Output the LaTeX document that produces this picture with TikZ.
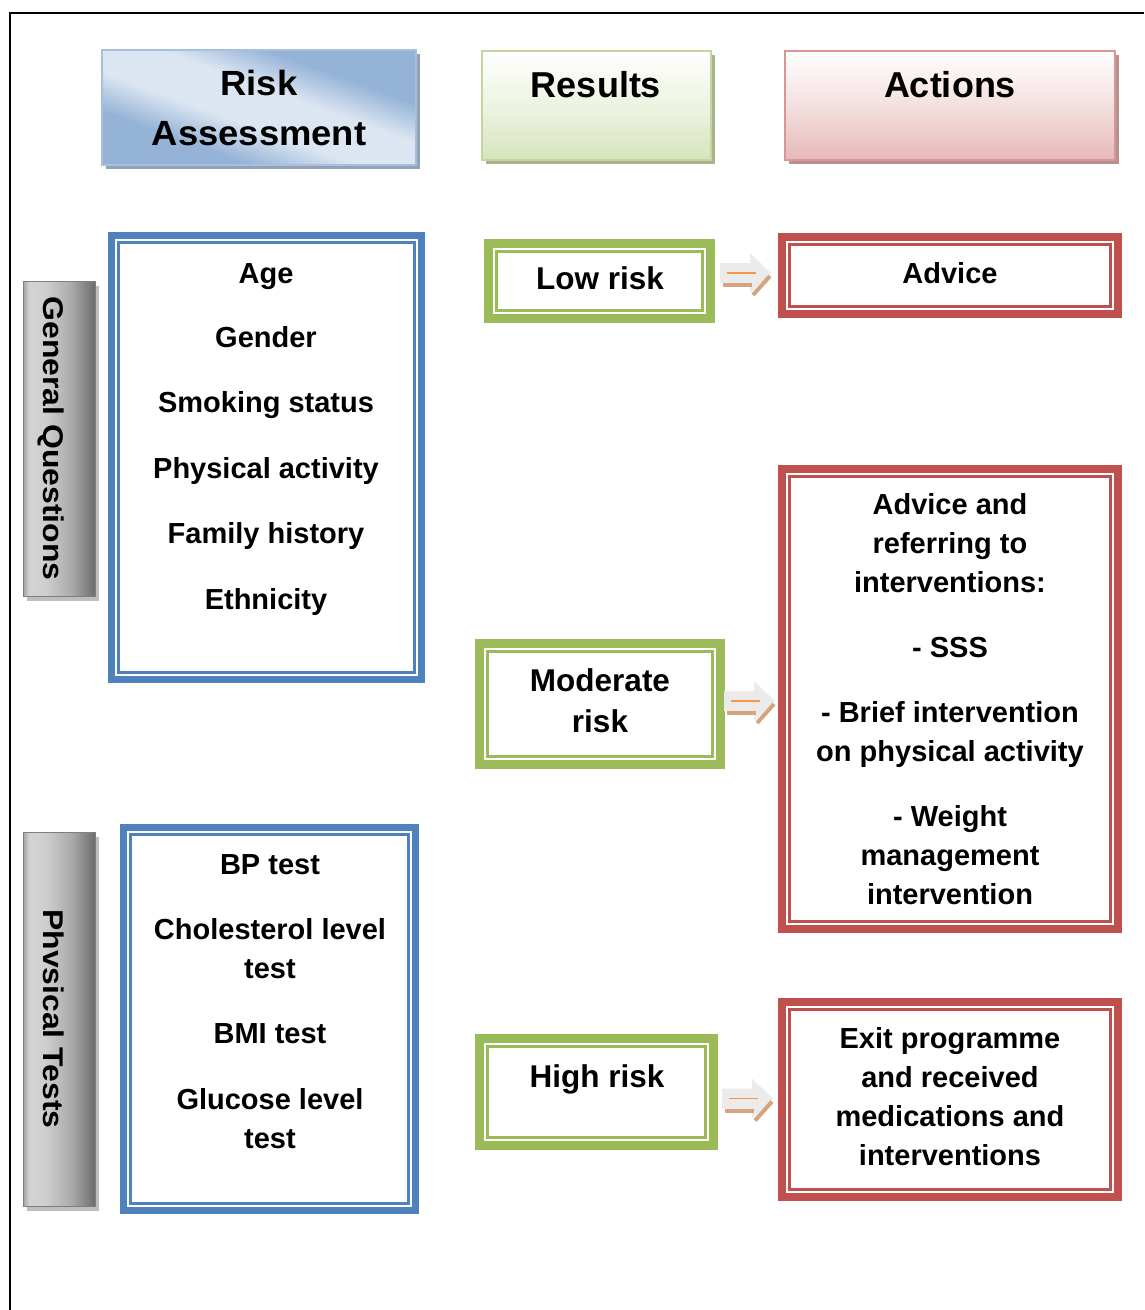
\documentclass[tikz,border=0pt]{standalone}
\usepackage{fontspec}
\setmainfont{Liberation Sans}
\usetikzlibrary{shadows}

\definecolor{bluebd}{HTML}{4F81BD}
\definecolor{greenbd}{HTML}{9BBB59}
\definecolor{redbd}{HTML}{C0504D}
\definecolor{hdrblueD}{HTML}{95B3D7}
\definecolor{hdrblueL}{HTML}{DCE6F2}
\definecolor{hdrblueBd}{HTML}{A7C0DE}
\definecolor{hdrblueSh}{HTML}{93A2B6}
\definecolor{hdrgreenB}{HTML}{D7E4BD}
\definecolor{hdrgreenBd}{HTML}{C3D69B}
\definecolor{hdrgreenSh}{HTML}{A9B390}
\definecolor{hdrredB}{HTML}{E6B9B8}
\definecolor{hdrredBd}{HTML}{D99694}
\definecolor{hdrredSh}{HTML}{B59291}
\definecolor{sideBd}{HTML}{7F7F7F}
\definecolor{sideSh}{HTML}{BDBDBD}
\definecolor{arrowface}{HTML}{EBEBEB}
\definecolor{arrowtan}{HTML}{D5A47F}
\definecolor{arroworange}{HTML}{F79646}

% diagonal sheen for the first heading: dark corners, light middle
\pgfdeclarehorizontalshading{bluesheen}{100bp}{%
  color(0bp)=(hdrblueD); color(33bp)=(hdrblueD); color(44bp)=(hdrblueL);
  color(56bp)=(hdrblueL); color(67bp)=(hdrblueD);
  color(100bp)=(hdrblueD)}
% metallic grey for the side labels
\pgfdeclarehorizontalshading{greymetal}{100bp}{%
  color(0bp)=(black!35); color(25bp)=(black!35); color(29bp)=(black!17);
  color(40bp)=(black!19); color(58bp)=(black!33); color(75bp)=(black!58);
  color(100bp)=(black!58)}

\tikzset{
  hdrbox/.style={inner sep=0pt, outer sep=0pt, line width=2pt, anchor=north west},
  sidebox/.style={inner sep=0pt, outer sep=0pt, line width=1.5pt, draw=sideBd,
    shading=greymetal, anchor=north west,
    drop shadow={shadow xshift=3pt, shadow yshift=-4pt, fill=sideSh, opacity=1}},
  hdrtext/.style={inner sep=0pt, anchor=base, font=\fontsize{36}{40}\selectfont\bfseries},
  bodytext/.style={inner sep=0pt, anchor=base, font=\fontsize{29}{39}\selectfont\bfseries},
  resulttext/.style={inner sep=0pt, anchor=base, font=\fontsize{31.5}{41}\selectfont\bfseries},
  sidetext/.style={inner sep=0pt, anchor=base, rotate=-90, font=\fontsize{28.5}{32}\selectfont\bfseries},
  blockarrow/.pic={
    \fill[arrowface] (-51,-10) -- (-21,-10) -- (-21,-20) -- (0,0) -- (-21,20)
      -- (-21,10) -- (-51,10) -- cycle;
    \draw[arrowtan, line width=4pt] (-48,12) -- (-19,12);
    \draw[arrowtan, line width=4pt] (-18,22) -- (-1,3);
    \draw[arroworange, line width=1.5pt] (-44,0) -- (-15,0);
  }
}

% framed box: thick outer band and a thin inner rule of the same colour
% #1 name, #2 colour, #3 band width, #4 #5 top-left, #6 #7 bottom-right
\newcommand\dblframe[7]{%
  \node[draw=#2, line width=#3pt, fill=white, inner sep=0pt, outer sep=0pt,
        minimum width={(#6)-(#4)-(#3)}, minimum height={(#7)-(#5)-(#3)},
        anchor=north west] (#1) at ({#4+#3/2},{#5+#3/2}) {};
  \draw[#2, line width=2.4pt]
    ([xshift={#3/2+3.5}, yshift={-(#3/2+3.5)}]#1.north west) rectangle
    ([xshift={-(#3/2+3.5)}, yshift={#3/2+3.5}]#1.south east);
}

\begin{document}
\begin{tikzpicture}[x=1pt, y=-1pt]
\useasboundingbox (0,0) rectangle (1144,1310);

% outer frame
\draw[line width=2pt] (1144,13) -- (10,13) -- (10,1310);

% column headings
\node[hdrbox, draw=hdrblueBd, shading=bluesheen, shading angle=70,
      minimum width=314, minimum height=115,
      drop shadow={shadow xshift=4pt, shadow yshift=-4pt, fill=hdrblueSh, opacity=1}]
      (hra) at (102,50) {};
\node[hdrbox, draw=hdrgreenBd, top color=white, bottom color=hdrgreenB,
      middle color=hdrgreenB!45!white,
      minimum width=229, minimum height=109,
      drop shadow={shadow xshift=4pt, shadow yshift=-4pt, fill=hdrgreenSh, opacity=1}]
      (hres) at (482,51) {};
\node[hdrbox, draw=hdrredBd, top color=white, bottom color=hdrredB,
      middle color=hdrredB!45!white,
      minimum width=330, minimum height=109,
      drop shadow={shadow xshift=4pt, shadow yshift=-4pt, fill=hdrredSh, opacity=1}]
      (hact) at (785,51) {};

\node[hdrtext, font=\fontsize{35}{40}\selectfont\bfseries] (tra1) at (259,95) {\scalebox{1.04}[1]{Risk}};
\node[hdrtext, font=\fontsize{35}{40}\selectfont\bfseries] (tra2) at (259,145) {\scalebox{1.04}[1]{Assessment}};
\node[hdrtext] (tres) at (596,97) {Results};
\node[hdrtext] (tact) at (950,97) {Actions};

% side labels
\node[sidebox, minimum width=72, minimum height=315] (sgq) at (23.5,281.5) {};
\node[sidebox, minimum width=72, minimum height=374] (spt) at (23.5,832.5) {};
\node[sidetext] (tgq) at (43,438.5) {\scalebox{1.12}[1]{General Questions}};
\node[sidetext] (tpt) at (43,1019) {\scalebox{1.12}[1]{Phvsical Tests}};

% assessment boxes
\dblframe{qbox}{bluebd}{7}{108}{232}{425}{683}
\dblframe{tbox}{bluebd}{7}{120}{824}{419}{1214}

\node[bodytext] (q1) at (266,283) {Age};
\node[bodytext] (q2) at (266,347) {Gender};
\node[bodytext] (q3) at (266,412) {Smoking status};
\node[bodytext] (q4) at (266,478) {Physical activity};
\node[bodytext] (q5) at (266,543) {Family history};
\node[bodytext] (q6) at (266,609) {Ethnicity};

\node[bodytext] (p1) at (270,874) {BP test};
\node[bodytext] (p2) at (270,939) {Cholesterol level};
\node[bodytext] (p3) at (270,978) {test};
\node[bodytext] (p4) at (270,1043) {BMI test};
\node[bodytext] (p5) at (270,1109) {Glucose level};
\node[bodytext] (p6) at (270,1148) {test};

% result boxes
\dblframe{lowr}{greenbd}{9}{484}{239}{715}{323}
\dblframe{modr}{greenbd}{9}{475}{639}{725}{769}
\dblframe{highr}{greenbd}{9}{475}{1034}{718}{1150}

\node[resulttext] (r1) at (600,289) {Low risk};
\node[resulttext] (r2) at (600,691) {Moderate};
\node[resulttext] (r3) at (600,732) {risk};
\node[resulttext] (r4) at (597,1087) {High risk};

% action boxes
\dblframe{adv}{redbd}{8}{778}{233}{1122}{318}
\dblframe{interv}{redbd}{8}{778}{465}{1122}{933}
\dblframe{exitp}{redbd}{8}{778}{998}{1122}{1201}

\node[bodytext] (a1) at (950,283) {Advice};

\node[bodytext] (b1) at (950,514) {Advice and};
\node[bodytext] (b2) at (950,553) {referring to};
\node[bodytext] (b3) at (950,592) {interventions:};
\node[bodytext] (b4) at (950,657) {- SSS};
\node[bodytext] (b5) at (950,722) {- Brief intervention};
\node[bodytext] (b6) at (950,761) {on physical activity};
\node[bodytext] (b7) at (950,826) {- Weight};
\node[bodytext] (b8) at (950,865) {management};
\node[bodytext] (b9) at (950,904) {intervention};

\node[bodytext] (c1) at (950,1048) {Exit programme};
\node[bodytext] (c2) at (950,1087) {and received};
\node[bodytext] (c3) at (950,1126) {medications and};
\node[bodytext] (c4) at (950,1165) {interventions};

% block arrows from each result to its action
\pic at ([shift={(-11,-2.5)}]adv.west) {blockarrow};
\pic at ([shift={(-7,2)}]interv.west) {blockarrow};
\pic at ([shift={(-9,-1)}]exitp.west) {blockarrow};

\end{tikzpicture}
\end{document}
